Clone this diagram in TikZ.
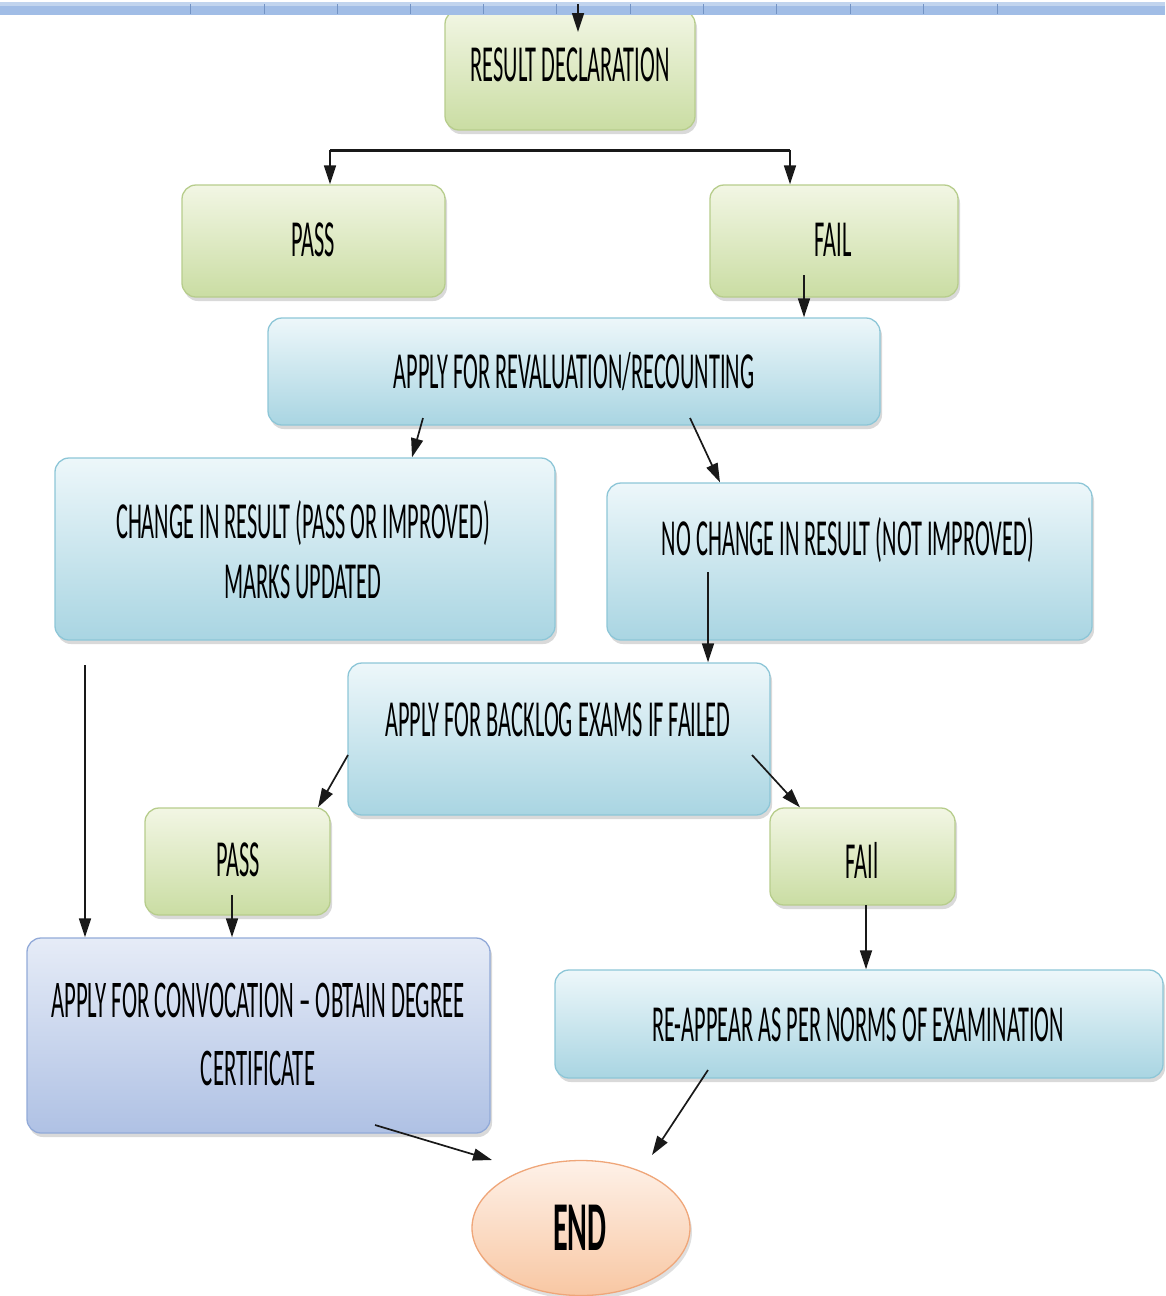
\documentclass[tikz,border=0pt]{standalone}
\usepackage{fontspec}
\setmainfont{Carlito}[FakeStretch=0.43]
\usetikzlibrary{shapes.geometric,shadows,arrows.meta}
\definecolor{gtop}{HTML}{F2F6E4}
\definecolor{gbot}{HTML}{CADDA3}
\definecolor{gedge}{HTML}{B7CD8C}
\definecolor{btop}{HTML}{EDF7FA}
\definecolor{bbot}{HTML}{A9D5E2}
\definecolor{bedge}{HTML}{8DC6D7}
\definecolor{ctop}{HTML}{E6ECF7}
\definecolor{cbot}{HTML}{AFC1E4}
\definecolor{cedge}{HTML}{92AAD8}
\definecolor{etop}{HTML}{FEF1E8}
\definecolor{ebot}{HTML}{F8C7A3}
\definecolor{eedge}{HTML}{EFA679}
\definecolor{bandc}{HTML}{A1BDE6}
\definecolor{tickc}{HTML}{7393C4}
\begin{document}
\begin{tikzpicture}[x=1pt,y=-1pt,
  box/.style={rectangle, rounded corners=14pt, line width=1.3pt, inner sep=0pt,
    drop shadow={shadow xshift=2pt, shadow yshift=-4pt, opacity=0.3}},
  gbox/.style={box, draw=gedge, top color=gtop, bottom color=gbot},
  bbox/.style={box, draw=bedge, top color=btop, bottom color=bbot},
  cbox/.style={box, draw=cedge, top color=ctop, bottom color=cbot},
  txt/.style={font=\fontsize{52}{60}\selectfont, align=center, inner sep=0pt, text=black},
  arr/.style={line width=1.7pt, draw=black!90, -{Triangle[length=19pt,width=12pt]}}
]
\useasboundingbox (0,0) rectangle (1165,1296);

% boxes
\node[gbox, minimum width=250pt, minimum height=120pt] (rd) at (570,70) {};
\node[gbox, minimum width=263pt, minimum height=112pt] (pass) at (313.5,241) {};
\node[gbox, minimum width=248pt, minimum height=112pt] (fail) at (834,241) {};
\node[bbox, minimum width=612pt, minimum height=107pt] (reval) at (574,371.5) {};
\node[bbox, minimum width=500pt, minimum height=182pt] (change) at (305,549) {};
\node[bbox, minimum width=485pt, minimum height=157pt] (nochange) at (849.5,561.5) {};
\node[bbox, minimum width=422pt, minimum height=152pt] (backlog) at (559,739) {};
\node[gbox, minimum width=185pt, minimum height=107pt] (pass2) at (237.5,861.5) {};
\node[gbox, minimum width=185pt, minimum height=97pt] (fail2) at (862.5,856.5) {};
\node[cbox, minimum width=463pt, minimum height=195pt] (conv) at (258.5,1035.5) {};
\node[bbox, minimum width=608pt, minimum height=108pt] (reappear) at (859,1024) {};
\node[ellipse, line width=1.3pt, draw=eedge, top color=etop, bottom color=ebot,
  minimum width=218pt, minimum height=135pt, inner sep=0pt,
  drop shadow={shadow xshift=2pt, shadow yshift=-4pt, opacity=0.25}] (end) at (581,1228) {};

% texts
\node[txt] (rdT) at (570,65) {RESULT DECLARATION};
\node[txt] (passT) at (313,240) {PASS};
\node[txt] (failT) at (833,240) {FAIL};
\node[txt] (revalT) at (574,372) {APPLY FOR REVALUATION/RECOUNTING};
\node[txt] (changeT) at (303,550) {CHANGE IN RESULT (PASS OR IMPROVED)\\MARKS UPDATED};
\node[txt] (nochangeT) at (848,540) {NO CHANGE IN RESULT (NOT IMPROVED)};
\node[txt] (backlogT) at (558,720) {APPLY FOR BACKLOG EXAMS IF FAILED};
\node[txt] (pass2T) at (238,860) {PASS};
\node[txt] (fail2T) at (862,860) {FAIl};
\node[txt, font=\fontsize{53}{68}\selectfont] (convT) at (258,1034) {APPLY FOR CONVOCATION – OBTAIN DEGREE\\CERTIFICATE};
\node[txt] (reappearT) at (858,1025) {RE-APPEAR AS PER NORMS OF EXAMINATION};
\node[txt, font=\fontsize{70}{80}\selectfont\bfseries] (endT) at (580,1228) {END};

% ruler band
\fill[bandc] (0,2) rectangle (1165,15);
\fill[white, opacity=0.35] (0,2) rectangle (1165,6);
\foreach \x in {190,264,337,410,483,556,630,703,776,850,923,997}
  \draw[tickc, line width=0.9pt] (\x,4) -- (\x,14);

% connectors
\coordinate (topsrc) at (578,4);
\draw[arr] (topsrc) -- (578,32);

\coordinate (bL) at (330,150);
\coordinate (bR) at (790,150);
\draw[line width=3pt, draw=black!90] (bL) -- (bR);
\draw[arr] (bL) -- (bL |- pass.north);
\draw[arr] (bR) -- (bR |- fail.north);

\coordinate (failout) at (804,275);
\draw[arr] (failout) -- (failout |- reval.north);

\coordinate (rvL) at (423,418);
\draw[arr] (rvL) -- (412,0 |- change.north);
\coordinate (rvR) at (690,418);
\draw[arr] (rvR) -- (720,0 |- nochange.north);

\coordinate (ncout) at (708,572);
\draw[arr] (ncout) -- (ncout |- backlog.north);

\coordinate (chout) at (85,665);
\draw[arr] (chout) -- (chout |- conv.north);

\coordinate (blL) at (348,755);
\draw[arr] (blL) -- (318,0 |- pass2.north);
\coordinate (blR) at (752,755);
\draw[arr] (blR) -- (800,0 |- fail2.north);

\coordinate (p2out) at (232,895);
\draw[arr] (p2out) -- (p2out |- conv.north);

\coordinate (f2out) at (866,905);
\draw[arr] (f2out) -- (f2out |- reappear.north);

\coordinate (cvout) at (375,1125);
\draw[arr] (cvout) -- (492,1160);
\coordinate (raout) at (708,1070);
\draw[arr] (raout) -- (652,1155);
\end{tikzpicture}
\end{document}
